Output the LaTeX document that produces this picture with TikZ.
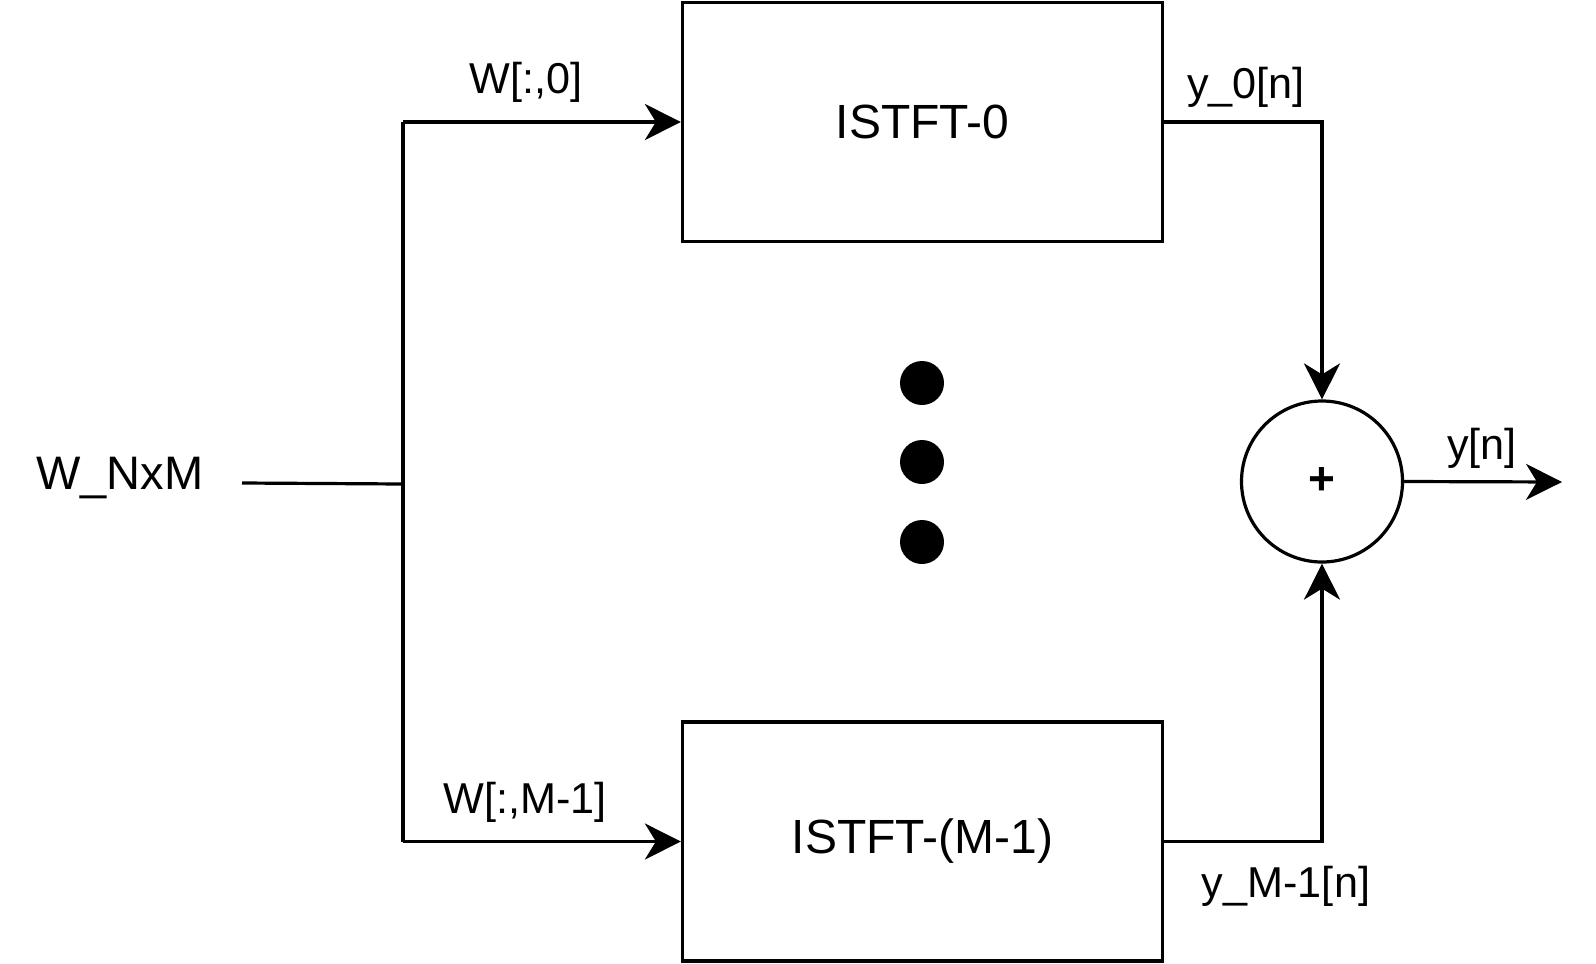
\documentclass[tikz,border=0pt]{standalone}
\usepackage{fontspec}
\setmainfont{Liberation Sans}
\usetikzlibrary{arrows.meta}
\begin{document}
\begin{tikzpicture}[x=0.5pt,y=-0.5pt,
  line width=1.6pt,
  box/.style={draw, line width=1.6pt, minimum width=240pt, minimum height=119.5pt, inner sep=0pt, font=\fontsize{24}{28}\selectfont},
  sumnode/.style={draw, circle, line width=1.6pt, minimum size=80.5pt, inner sep=0pt, font=\fontsize{23}{27}\selectfont\bfseries},
  lbl/.style={inner sep=0pt, font=\fontsize{21.6}{26}\selectfont},
  big/.style={inner sep=0pt, font=\fontsize{23.5}{27}\selectfont},
  dotnode/.style={circle, fill=black, minimum size=22pt, inner sep=0pt},
  arr/.style={-{Stealth[length=18pt,width=18pt,inset=5.5pt]}}
]
\useasboundingbox (0,0) rectangle (1596,964);

% blocks
\node[box] (b0) at (922.5,122) {ISTFT-0};
\node[box] (b1) at (922.5,841.5) {ISTFT-(M-1)};
\node[sumnode] (sum) at (1322,481.5) {+};

% dots
\node[dotnode] (d1) at (922,383) {};
\node[dotnode] (d2) at (922,462) {};
\node[dotnode] (d3) at (922,542) {};

% input
\node[big] (win) at (120,478) {W\_NxM};
\coordinate (src) at (242,483);
\coordinate (jm) at (403,484);
\coordinate (jt) at (403,122);
\coordinate (jb) at (403,841.5);
\coordinate (out) at (1562,482);

\draw (src) -- (jm);
\draw (jt) -- (jb);
\draw[arr] (jt) -- (b0.west);
\draw[arr] (jb) -- (b1.west);
\draw[arr] (b0.east) -| (sum.north);
\draw[arr] (b1.east) -| (sum.south);
\draw[arr] (sum.east) -- (out);

% labels
\node[lbl] (l0) at (526,82) {W[:,0]};
\node[lbl] (l1) at (525,802) {W[:,M-1]};
\node[lbl] (ly0) at (1246,87) {y\_0[n]};
\node[lbl] (ly1) at (1286,886) {y\_M-1[n]};
\node[lbl] (ly) at (1482,448) {y[n]};
\end{tikzpicture}
\end{document}
